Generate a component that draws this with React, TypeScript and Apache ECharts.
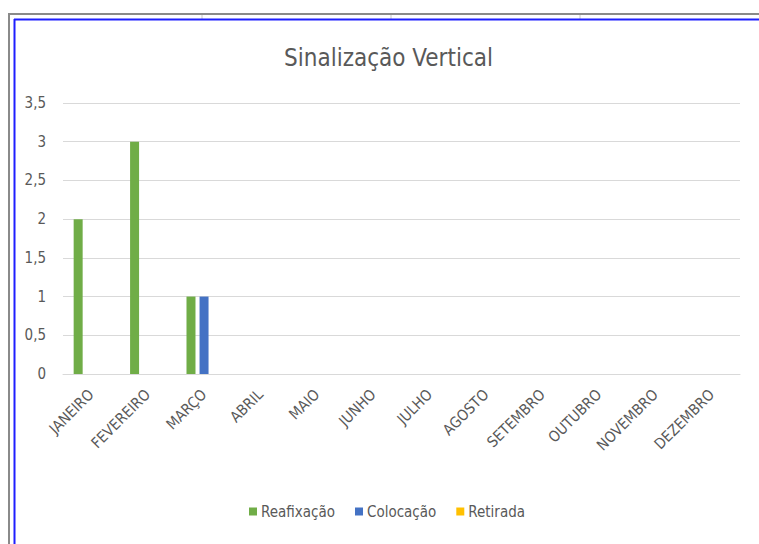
import React, { useEffect, useRef } from "react";
import * as echarts from "echarts";

const categories = ["JANEIRO", "FEVEREIRO", "MARÇO", "ABRIL", "MAIO", "JUNHO", "JULHO", "AGOSTO", "SETEMBRO", "OUTUBRO", "NOVEMBRO", "DEZEMBRO"];
const reafixacao = [2, 3, 1, 0, 0, 0, 0, 0, 0, 0, 0, 0];
const colocacao = [0, 0, 1, 0, 0, 0, 0, 0, 0, 0, 0, 0];
const retirada = [0, 0, 0, 0, 0, 0, 0, 0, 0, 0, 0, 0];
const seriesNames = ["Reafixação", "Colocação", "Retirada"];
const colors = ["#70ad47", "#4472c4", "#ffc000"];

const FONT = "'Liberation Sans Narrow', 'DejaVu Sans Condensed', 'Noto Sans', sans-serif";

export default function App() {
  const ref = useRef<HTMLDivElement>(null);
  useEffect(() => {
    if (!ref.current) return;
    const chart = echarts.init(ref.current, undefined, { renderer: "svg" });
    const mk = (name: string, data: number[], color: string) => ({
      name,
      type: "bar",
      data,
      barWidth: 9,
      barGap: "45%",
      itemStyle: { color },
    });
    chart.setOption({
      animation: false,
      backgroundColor: "#ffffff",
      textStyle: { fontFamily: FONT },
      title: {
        text: "Sinalização Vertical",
        left: 279,
        top: 41,
        textStyle: { fontFamily: FONT, fontSize: 24, fontWeight: "normal", color: "#595959" },
      },
      legend: {
        bottom: 20,
        left: 244,
        itemWidth: 8,
        itemHeight: 8,
        itemGap: 20,
        icon: "rect",
        textStyle: { fontFamily: FONT, fontSize: 15, color: "#595959", padding: [0, 0, 0, -1] },
        data: seriesNames,
      },
      grid: { left: 63, right: 19, top: 103, bottom: 170, containLabel: false },
      xAxis: {
        type: "category",
        data: categories,
        axisLine: { lineStyle: { color: "#d9d9d9" } },
        axisTick: { show: false },
        axisLabel: { rotate: 45, color: "#595959", fontSize: 15, fontFamily: FONT, margin: 18, interval: 0 },
      },
      yAxis: {
        type: "value",
        min: 0,
        max: 3.5,
        interval: 0.5,
        axisLine: { show: false },
        axisTick: { show: false },
        splitLine: { lineStyle: { color: "#d9d9d9" } },
        axisLabel: {
          color: "#595959",
          fontSize: 15,
          fontFamily: FONT,
          margin: 17,
          formatter: (v: number) => String(v).replace(".", ","),
        },
      },
      graphic: [
        { type: "line", shape: { x1: 8, y1: 14, x2: 759, y2: 14 }, style: { stroke: "#8a8a8a", lineWidth: 2 } },
        { type: "line", shape: { x1: 9, y1: 14, x2: 9, y2: 544 }, style: { stroke: "#8a8a8a", lineWidth: 2 } },
        { type: "line", shape: { x1: 202, y1: 15, x2: 202, y2: 19 }, style: { stroke: "#c8c8c8", lineWidth: 1 } },
        { type: "line", shape: { x1: 391, y1: 15, x2: 391, y2: 19 }, style: { stroke: "#c8c8c8", lineWidth: 1 } },
        { type: "line", shape: { x1: 580, y1: 15, x2: 580, y2: 19 }, style: { stroke: "#c8c8c8", lineWidth: 1 } },
        { type: "line", shape: { x1: 14, y1: 19.5, x2: 759, y2: 19.5 }, style: { stroke: "#1f1fff", lineWidth: 2 } },
        { type: "line", shape: { x1: 14.5, y1: 19, x2: 14.5, y2: 544 }, style: { stroke: "#1f1fff", lineWidth: 2 } },
      ],
      series: [
        mk(seriesNames[0], reafixacao, colors[0]),
        mk(seriesNames[1], colocacao, colors[1]),
        mk(seriesNames[2], retirada, colors[2]),
      ],
    });
    return () => chart.dispose();
  }, []);
  return (
    <div style={{ position: "fixed", left: 0, top: 0, width: 759, height: 544, background: "#fff" }}>
      <div ref={ref} style={{ width: 759, height: 544 }} />
    </div>
  );
}
